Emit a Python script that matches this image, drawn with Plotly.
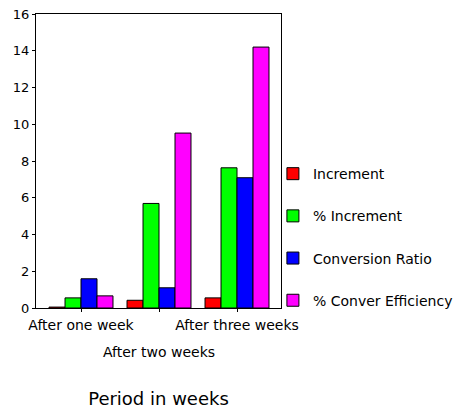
import plotly.graph_objects as go

categories = ["After one week", "After two weeks", "After three weeks"]
series_names = ["Increment", "% Increment", "Conversion Ratio", "% Conver Efficiency"]
increment = [0.05, 0.42, 0.55]
pct_increment = [0.55, 5.69, 7.63]
conversion_ratio = [1.59, 1.1, 7.09]
pct_conver_eff = [0.66, 9.52, 14.2]
colors = ["#FF0000", "#00FF00", "#0000FF", "#FF00FF"]
y_ticks = [0, 2, 4, 6, 8, 10, 12, 14, 16]

series = [increment, pct_increment, conversion_ratio, pct_conver_eff]
xpos = list(range(len(categories)))

fig = go.Figure()
for i, (name, vals, col) in enumerate(zip(series_names, series, colors)):
    fig.add_trace(go.Bar(
        x=xpos, y=vals, name=name, legendgroup=name,
        marker=dict(color=col, line=dict(color="black", width=1)),
    ))

# staggered category labels: even ones on the tick row, odd ones on a second row
ticktext = [c if i % 2 == 0 else "" for i, c in enumerate(categories)]
for i, c in enumerate(categories):
    if i % 2 == 1:
        fig.add_annotation(x=xpos[i], xref="x", y=-0.15, yref="paper",
                           text=c, showarrow=False, yanchor="middle",
                           font=dict(size=14))

FONT = "DejaVu Sans, Arial, sans-serif"
fig.update_layout(
    width=461, height=410,
    margin=dict(l=36, r=180, t=14, b=102, autoexpand=False),
    paper_bgcolor="white", plot_bgcolor="white",
    barmode="group", bargap=0.18, bargroupgap=0,
    font=dict(family=FONT, color="black", size=14),
    showlegend=True,
    legend=dict(x=0.967, y=0.51, xanchor="left", yanchor="top", itemwidth=30,
                tracegroupgap=21, font=dict(size=14), bgcolor="rgba(0,0,0,0)"),
    xaxis=dict(
        range=[-0.577, 2.564], tickmode="array", tickvals=xpos, ticktext=ticktext,
        tickangle=0, automargin=False, ticklabelstandoff=1,
        showline=True, linecolor="black", linewidth=1, mirror=True,
        ticks="outside", ticklen=3, tickcolor="black", showgrid=False, zeroline=False,
        tickfont=dict(size=14),
        title=dict(text="Period in weeks", font=dict(size=18), standoff=60),
    ),
    yaxis=dict(
        range=[0, 16], tickmode="array", tickvals=y_ticks, automargin=False,
        showline=True, linecolor="black", linewidth=1, mirror=True,
        ticks="outside", ticklen=3, tickcolor="black", showgrid=False, zeroline=False,
        tickfont=dict(size=13),
    ),
)

fig.write_html("out.html", config={"displayModeBar": False},
               post_script="document.body.style.margin='0px';")
